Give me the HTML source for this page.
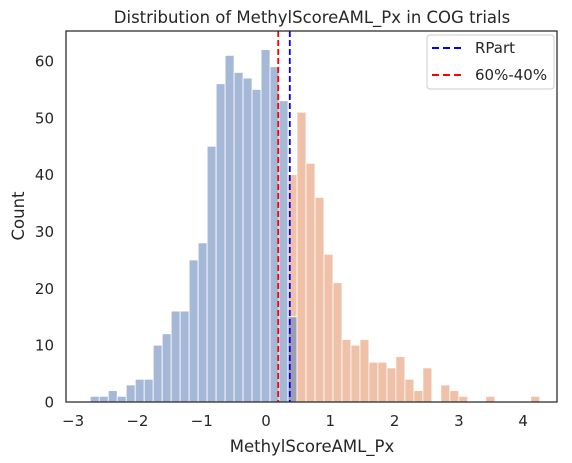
<!DOCTYPE html>
<html><head><meta charset="utf-8"><style>
html,body{margin:0;padding:0;background:#fff;width:572px;height:463px;overflow:hidden}
text{font-family:"DejaVu Sans","Liberation Sans",sans-serif;fill:#262626}
</style></head><body>
<svg id="chart" width="572" height="463" viewBox="0 0 572 463" xmlns="http://www.w3.org/2000/svg">
<g id="bars"></g>
<g id="axes"></g>
</svg>
<script>
const binStart = -2.733;
const binWidth = 0.1398;
const lowCounts = [1,1,2,1,3,4,4,10,12,16,16,25,28,45,56,61,58,57,55,62,59,53,15];
const highStart = 22;
const highCounts = [40,51,42,36,26,21,11,10,11,7,7,6,8,4,2,6,0,3,2,1,0,0,1,0,0,0,0,1];
const xTicks = [-3,-2,-1,0,1,2,3,4];
const yTicks = [0,10,20,30,40,50,60];
const rpartCut = 0.37;
const pctCut = 0.19;

const L=66,R=557,T=31,B=402;
const xs = v => 266 + v*64.3;
const ys = v => B - v*5.683;
const gb=document.getElementById('bars');
const ga=document.getElementById('axes');
const NS='http://www.w3.org/2000/svg';
function mk(tag,attrs,parent){const e=document.createElementNS(NS,tag);for(const k in attrs)e.setAttribute(k,attrs[k]);parent.appendChild(e);return e;}

lowCounts.forEach((c,i)=>{
  if(!c)return;
  const x0=xs(binStart+i*binWidth),x1=xs(binStart+(i+1)*binWidth);
  const r=mk('rect',{x:x0,y:ys(c),width:x1-x0,height:B-ys(c),fill:'#a5b8d8',stroke:'#fff','stroke-width':0.8},gb);
  
  
});
highCounts.forEach((c,j)=>{
  if(!c)return;
  const i=highStart+j;
  const x0=xs(binStart+i*binWidth),x1=xs(binStart+(i+1)*binWidth);
  const r=mk('rect',{x:x0,y:ys(c),width:x1-x0,height:B-ys(c),fill:'#dd8452','fill-opacity':0.5,stroke:'#fff','stroke-width':0.8},gb);
  
  
  if(i<lowCounts.length && lowCounts[i]){
    const lc=Math.min(lowCounts[i],c);
    const o=mk('rect',{x:x0,y:ys(lc),width:x1-x0,height:B-ys(lc),fill:'#9c9db3',stroke:'#fff','stroke-width':0.8},gb);
    
    
  }
});
const l1=mk('line',{x1:xs(pctCut),x2:xs(pctCut),y1:T,y2:B,stroke:'#ff0000','stroke-width':1.8,'stroke-dasharray':'6 3'},ga);


const l2=mk('line',{x1:xs(rpartCut),x2:xs(rpartCut),y1:T,y2:B,stroke:'#0000ff','stroke-width':1.8,'stroke-dasharray':'6 3'},ga);


const f=mk('rect',{x:L,y:T,width:R-L,height:B-T,fill:'none',stroke:'#262626','stroke-width':1.25},ga);


xTicks.forEach(v=>{
  const t=mk('text',{x:xs(v),y:426,'text-anchor':'middle','font-size':15},ga);
  t.textContent=(v<0?'\u2212'+(-v):v);
  
  
});
yTicks.forEach(v=>{
  const t=mk('text',{x:54,y:ys(v)+5.5,'text-anchor':'end','font-size':15},ga);
  t.textContent=v;
  
  
});
</script>
<svg style="position:absolute;left:0;top:0" width="572" height="463">
<text x="312" y="23" text-anchor="middle" font-size="16.5">Distribution of MethylScoreAML_Px in COG trials</text>
<text x="312" y="452" text-anchor="middle" font-size="16.5">MethylScoreAML_Px</text>
<text x="24" y="216" text-anchor="middle" font-size="16.5" transform="rotate(-90 24 216)">Count</text>
<g>
<rect x="427" y="35" width="127" height="54" rx="3" fill="#fff" fill-opacity="0.8" stroke="#ccc"/>
<line x1="432" x2="462" y1="48" y2="48" stroke="#0000ff" stroke-width="2" stroke-dasharray="7 4"/>
<text x="475" y="53" font-size="15">RPart</text>
<line x1="432" x2="462" y1="75" y2="75" stroke="#ff0000" stroke-width="2" stroke-dasharray="7 4"/>
<text x="475" y="80" font-size="15">60%-40%</text>
</g>
</svg>
</body></html>
